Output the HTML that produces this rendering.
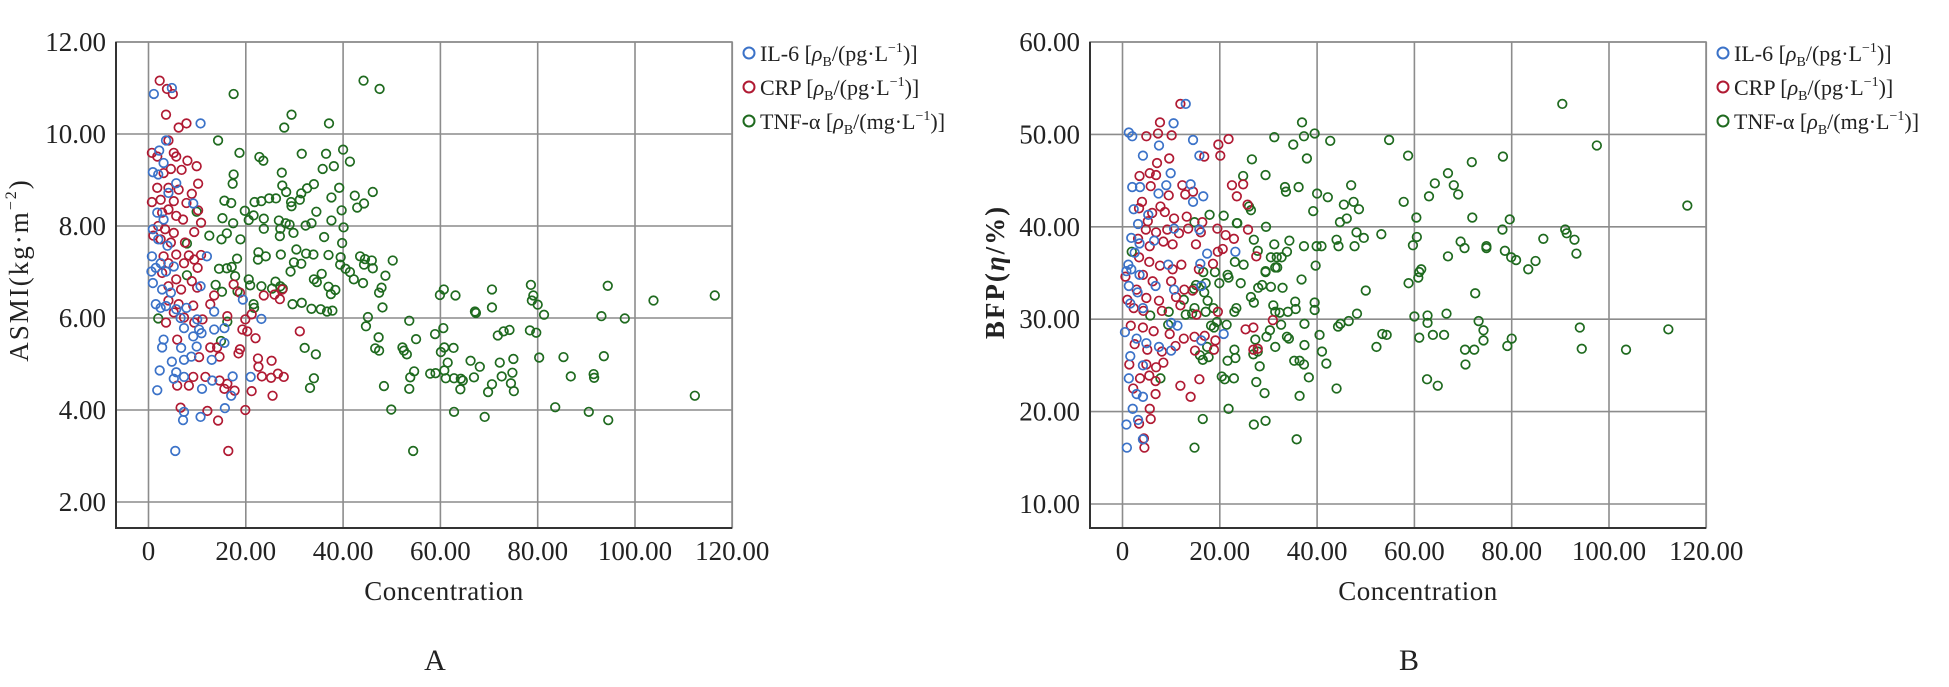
<!DOCTYPE html>
<html><head><meta charset="utf-8"><style>
html,body{margin:0;padding:0;background:#fff;}
svg{display:block;font-family:"Liberation Serif",serif;}
</style></head><body>
<svg id="fig" width="1949" height="687" viewBox="0 0 1949 687"></svg>
<script>
// ---- Panel A data (ASMI vs concentration) ----
const aIL6X=[1.1,4.8,10.7,3.6,2.2,3.1,0.9,2,5.7,4.1,9.2,1.8,3.1,0.9,2,3.9,0.7,2.5,1.5,0.6,3.6,5.2,12,0.9,2.8,4.6,10.7,1.5,2.5,3.6,5.7,7.8,13.5,19.4,23.2,6.6,10,7.3,10.4,13.5,15.6,9.2,3.1,2.8,6.7,9.9,15.6,7.3,4.8,8.8,13,2.3,5.7,5.2,7.3,11,13.1,17.3,21,1.8,17,15.7,7.3,7.1,10.7,5.5,10.9];
const aIL6Y=[10.87,11.0,10.23,9.86,9.64,9.37,9.17,9.12,8.93,8.72,8.49,8.29,8.14,7.93,7.71,7.57,7.34,7.19,7.09,7.01,7.01,7.12,7.34,6.76,6.62,6.55,6.69,6.30,6.22,6.26,6.19,6.22,6.14,6.40,5.98,6.0,5.97,5.78,5.75,5.75,5.78,5.60,5.53,5.36,5.35,5.38,5.46,5.09,5.05,5.16,5.09,4.86,4.82,4.68,4.72,4.46,4.64,4.73,4.72,4.43,4.31,4.04,3.96,3.78,3.85,3.11,5.67];
const aCRPX=[2.3,3.8,5,3.6,6.2,7.8,4.1,0.7,1.8,5.2,5.7,8,9.9,4.6,6.8,3.1,10.2,1.8,4.1,6.2,8.9,0.7,2.5,5.2,7.8,10.2,2.8,4.1,5.7,7.1,10.8,2,3.4,5.2,9.4,1,2.5,4.6,7.5,3.1,5.7,8.3,9.4,10.8,4.1,7.3,10.1,2.8,5.7,8.9,4.1,6.7,10,13.5,17.5,18.8,23.7,25.9,27.5,27,4.1,6.2,9.2,12.7,5.2,7.3,11.1,16.2,19.9,21.2,3.6,9.4,19.3,20.3,31.1,5.9,12.7,14.1,18.8,22,10.4,14.6,18.5,22.5,25.3,22.6,9.2,11.7,14.6,16.2,8.3,5.9,23.3,25.2,27.8,26.6,21.2,25.5,6.6,12.1,14.3,19.9,16.4,15.6,17.7];
const aCRPY=[11.16,10.98,10.87,10.42,10.14,10.23,9.86,9.59,9.51,9.59,9.51,9.42,9.30,9.24,9.22,9.15,8.92,8.83,8.83,8.79,8.70,8.52,8.57,8.54,8.50,8.34,8.29,8.36,8.22,8.14,8.07,8,7.93,7.85,7.87,7.79,7.71,7.64,7.64,7.34,7.38,7.36,7.27,7.37,7.19,7.19,7.09,6.98,6.84,6.80,6.69,6.62,6.66,6.49,6.73,6.55,6.49,6.51,6.62,6.41,6.38,6.30,6.27,6.30,6.12,6.01,5.97,6.04,5.97,6.08,5.90,5.90,5.75,5.71,5.71,5.53,5.36,5.36,5.32,5.56,5.15,5.16,5.23,5.12,5.07,4.94,4.72,4.72,4.64,4.57,4.53,4.53,4.73,4.70,4.72,4.79,4.41,4.31,4.05,3.98,3.77,4.00,3.11,4.46,4.42];
const aTNFX=[44.2,47.5,17.5,29.4,27.9,37.1,14.3,18.7,31.5,36.5,40,41.4,22.8,23.6,35.8,38.1,27.4,17.5,17.3,27.5,34,39.2,46.1,32.6,31.4,42.4,37.6,44.3,42.9,28.3,15.6,17,21.8,23.2,24.8,26.2,29.3,31.1,29.4,34.5,39.7,19.8,21.6,20.6,15.2,17.4,23.7,26.8,28.2,29,32.3,33.5,37.6,40.1,27.1,23.7,12.5,16.1,27,29.8,36.1,15,18.9,39.8,7.9,30.4,33.9,22.6,27.2,32.4,37,39.5,43.5,44.5,45.9,50.2,18.2,22.5,24.1,29.9,31.4,39.4,40.5,41.4,44.3,46.1,14.5,16.1,17.1,29.2,35.6,48.7,42.2,34,34.6,17.8,20.6,26.1,44.1,13.8,20.9,23.2,25.4,27.1,27.6,37,38.4,47.9,15.1,18.3,37.5,47.4,60.7,59.9,63.1,70.6,78.6,94.4,79.1,78.8,80,81.3,103.8,116.4,93.1,97.9,67.1,67.3,70.6,48.1,45.1,44.7,53.6,21.6,21.7,29.6,31.5,33.5,35.4,36.7,37.8,2,9.9,7.9,16.2,14.9,47.3,58.9,60.6,71.8,73,74.2,78.4,79.7,55,32.1,34.4,46.6,47.4,52.2,52.5,53.1,60.1,60.8,62.7,61.5,66.2,68.1,72.2,75,80.3,85.3,93.6,54.6,53.8,57.9,59,60.8,61.1,62.8,64.2,64.6,66.9,70.6,72.6,74.8,74.5,75.1,86.8,91.5,91.6,64.1,69.8,48.4,53.6,33.2,34,49.9,62.8,69.1,83.6,90.5,94.5,112.3,54.4];
const aTNFY=[11.16,10.98,10.87,10.42,10.14,10.23,9.86,9.59,9.57,9.57,9.66,9.40,9.50,9.42,9.24,9.30,9.16,9.12,8.92,8.88,8.91,8.83,8.74,8.82,8.71,8.66,8.62,8.49,8.40,8.74,8.55,8.50,8.52,8.54,8.60,8.60,8.52,8.57,8.43,8.31,8.34,8.33,8.23,8.13,8.17,8.06,8.16,8.12,8.06,8.03,8.01,8.06,8.12,7.97,7.94,7.94,7.79,7.84,7.78,7.85,7.76,7.71,7.71,7.63,7.62,7.49,7.38,7.43,7.38,7.40,7.37,7.32,7.34,7.28,7.25,7.25,7.29,7.27,7.34,7.21,7.18,7.16,7.07,7.00,7.16,7.08,7.07,7.08,7.11,7.01,6.96,6.92,6.84,6.84,6.78,6.91,6.84,6.79,6.76,6.72,6.71,6.69,6.64,6.69,6.64,6.68,6.61,6.66,6.57,6.58,6.52,6.55,6.62,6.50,6.49,6.62,6.72,6.70,6.49,6.38,6.29,6.07,6.38,6.49,6.04,5.99,6.14,6.11,6.23,6.23,6.02,5.82,5.94,6.30,6.22,6.30,6.33,6.20,6.19,6.14,6.16,5.99,8.31,6.93,5.92,5.50,5.58,5.65,5.78,5.62,5.71,5.74,5.73,5.68,5.54,5.35,5.21,5.34,5.29,5.36,5.29,5.21,5.26,5.36,5.35,5.03,5.07,4.94,5.03,5.11,5.14,5.15,5.17,4.84,4.71,4.79,4.80,4.86,4.69,4.69,4.68,4.64,4.71,4.56,4.73,4.81,4.58,4.41,4.73,4.78,4.70,4.45,4.39,4.52,4.46,4.48,4.69,4.01,3.96,3.85,4.06,3.96,3.78,4.31,3.11];
// ---- Panel B data (BFP vs concentration) ----
const bIL6X=[13,10.5,1.3,2,14.5,7.5,4.2,15.8,9.9,2,3.6,9,14,16.6,14.5,7.4,2.3,5.3,3.2,10.6,15.8,1.8,3.5,6.5,23.2,2.5,1.2,1.8,3.5,9.4,16,17.4,0.8,1.3,3.1,6.8,10.6,16.2,1.6,4.2,10,11.3,0.5,2.9,4.9,7.5,10,16.2,20.8,1.6,4.2,1.3,2.9,4.2,2.1,3.2,0.8,0.9,4.2];
const bIL6Y=[53.3,51.2,50.2,49.8,49.4,48.8,47.7,47.7,45.8,44.3,44.3,44.5,44.6,43.3,42.7,43.6,41.9,41.3,40.3,39.8,39.7,38.8,38.2,38.5,37.3,37.2,35.9,35.4,34.8,35.9,36.0,37.1,35.2,33.6,32.9,33.6,33.2,33.6,31.7,31.2,29.6,29.3,28.6,27.9,27.4,27.0,26.6,27.7,28.4,26.0,25.0,23.6,21.9,21.6,20.3,19.1,18.6,16.1,17.0];
const bCRPX=[11.9,7.7,10.1,4.9,7.3,19.7,21.8,20.1,16.8,9.6,7.1,5.6,6.9,3.5,5.8,12.3,14.5,12.9,22.5,24.8,23.5,25.7,9.5,7.8,4,3.4,6.1,8.7,10.6,5.2,13.2,13.5,4.8,6.9,9.2,11.6,16.1,19.5,21.2,22.9,25.8,15.1,19.6,20.6,27.5,3.2,5.6,8.4,10.3,3.4,5.5,7.7,10.3,12.1,15.7,18.6,0.6,4.2,6.2,10,12.7,14.4,2.9,4.9,7.5,11,1,2.3,4.3,8.1,11.9,15.2,19.6,30.9,1.7,4.2,6.4,9.7,12.6,14.8,16.9,19.1,25.3,26.9,2.5,5.1,8.1,10.9,14.9,18.8,26.9,27.8,1.4,4.9,6.9,8.4,3.6,5.5,6.8,15.8,11.9,2.2,6.8,14,5.6,5.8,3.4,4.4,4.5,16.4];
const bCRPY=[53.3,51.3,49.9,49.8,50.1,48.9,49.5,47.7,47.6,47.4,46.9,45.8,45.6,45.5,44.4,44.5,43.8,43.5,44.5,44.6,43.3,42.4,43.4,42.2,42.7,42.0,41.5,41.6,40.9,40.6,41.1,39.8,39.7,39.4,39.7,39.3,39.4,39.8,39.1,38.7,39.7,38.1,37.3,37.6,36.8,38.7,37.9,38.4,38.1,36.7,36.2,35.8,35.4,35.9,35.4,36.0,34.6,34.8,34.1,34.1,33.2,33.1,33.2,32.3,32.0,32.4,32.1,31.2,30.9,30.9,31.5,30.5,30.8,29.9,29.3,29.1,28.7,28.4,27.9,28.1,28.2,27.7,28.9,29.1,27.3,26.7,26.5,27.1,26.6,26.7,26.7,26.8,25.1,25.1,24.8,25.3,23.6,23.9,23.3,23.5,22.8,22.5,21.9,21.6,20.3,19.2,18.7,17.1,16.1,40.5];
const bTNFX=[90.4,97.5,116.1,36.9,39.5,37.3,31.2,35.1,42.7,54.8,37.9,26.6,58.7,71.8,78.2,29.4,24.8,33.4,36.2,33.6,47,42.2,40,45.5,47.5,48.6,57.8,63,64.2,66.9,68.1,69,39.2,26,26.4,17.9,20.8,23.5,29.5,44.7,46.1,60.4,71.9,79.6,78.1,91,91.3,92.9,86.5,93.3,69.5,70.3,74.8,74.8,78.6,79.9,80.9,84.9,83.4,66.9,60.5,59.7,61,60.8,61.4,58.8,50,53.2,49.6,48.1,47.7,44,44.4,39.9,40.9,37.3,39.7,34.3,31.2,27,23.6,30.5,31.7,32.7,33.8,27.8,23.1,24.9,21.6,21.8,24.3,27.9,26.4,28.7,29.4,29.4,31.4,31.8,32.9,30.5,36.8,35.5,35.6,39.5,39.5,31,31.4,32.3,34,48.2,46.5,44.3,44.8,27,23.4,23,21.4,19.4,18.8,30.3,29.6,32.6,33.8,34.2,37.4,40.5,37.4,31.4,27.3,27.8,26.9,23,23.2,21.6,28.2,35.3,37.3,41,41.9,53.4,54.3,52.2,60,61,62.7,62.7,63.8,66.1,66.6,72.5,73.2,74.2,74.2,70.4,72.3,70.5,79.1,80,94,94.4,103.5,112.2,62.6,64.8,44,38.3,36.4,20.4,21,22.9,27.5,29.2,36.4,21.8,16.5,27,29.4,35.8,14.8,16.5,15.9,17.7,17.4,18.2,17.5,14.7,15.1,16.8,14.8,12.6,14.3,13,9.4,7.8,5.7,1.9,14.8,16.6,17.1,19,19.9,18.7,9.5,17.1];
const bTNFY=[53.3,48.8,42.3,51.3,50.1,49.8,49.7,48.9,49.3,49.4,47.4,47.3,47.7,47.0,47.6,45.6,45.5,44.3,44.3,43.8,44.5,43.2,43.6,42.4,42.7,41.9,42.7,43.3,44.7,45.8,44.5,43.5,41.7,42.2,41.8,41.3,41.2,40.4,40.0,40.5,40.9,41.0,41.0,40.8,39.7,39.7,39.3,38.6,38.7,37.1,38.4,37.7,37.9,37.7,37.4,36.7,36.4,36.3,35.4,36.8,38.9,38.0,35.1,34.5,35.4,33.9,33.1,39.2,38.8,39.4,37.9,38.6,37.9,37.9,37.9,37.9,35.8,38.5,38.1,38.6,40.4,36.7,36.7,36.7,37.3,37.4,36.2,35.9,34.8,34.5,33.9,33.4,32.4,33.7,35.1,35.2,35.6,35.6,33.4,33.5,34.3,31.9,31.1,31.8,31.0,31.5,30.8,30.7,30.8,30.6,29.8,29.2,29.5,31.8,31.2,30.8,29.4,29.7,29.1,28.8,28.1,29.4,28.1,27.9,29.5,28.3,27.2,27.0,27.8,26.5,26.2,26.7,25.8,25.5,24.9,25.5,25.1,26.5,25.2,28.4,28.3,27.0,30.3,28.0,30.4,29.6,28.3,28.3,30.6,32.8,29.8,28.8,27.7,26.7,26.7,25.1,27.1,27.9,29.1,26.8,26.7,28.9,23.5,22.8,22.5,23.7,25.5,23.8,23.5,23.6,23.2,22.0,21.7,20.3,19.2,18.6,19.0,17.0,16.1,25.6,26.1,25.9,27.0,29.3,32.0,33.3,33.7,32.9,31.2,32.1,30.6,30.5,29.4,23.6,30.4,37.3,40.5,35.1,33.9,35.1,33.9,31.2,30.8,30.8];
// ---- tick labels ----
const xTicks=[0,20,40,60,80,100,120];
const xTickLabels=["0","20.00","40.00","60.00","80.00","100.00","120.00"];
const aYTicks=[2,4,6,8,10,12];
const aYTickLabels=["2.00","4.00","6.00","8.00","10.00","12.00"];
const bYTicks=[10,20,30,40,50,60];
const bYTickLabels=["10.00","20.00","30.00","40.00","50.00","60.00"];

const NS="http://www.w3.org/2000/svg";
const svg=document.getElementById('fig');
function mk(tag,attrs,parent){const e=document.createElementNS(NS,tag);for(const k in attrs)e.setAttribute(k,attrs[k]);(parent||svg).appendChild(e);return e;}
const COL={il6:"#3b72c8",crp:"#b01a33",tnf:"#1f6a1f"};

function panel(o){
  const L=o.ox+116,R=o.ox+732,T=42,B=528;
  const xs=v=>o.ox+148.5+v*4.865;
  const ys=v=>o.y0px-(v-o.y0)*o.ypu;
  const g=mk('g',{});
  
  
  // grid
  xTicks.forEach((t,i)=>{const l=mk('line',{x1:xs(t),x2:xs(t),y1:T,y2:B,stroke:"#8c8c8c","stroke-width":1.6},g);
    
    const tx=mk('text',{x:xs(t),y:560,"text-anchor":"middle","font-size":27,fill:"#222"},g);tx.textContent=xTickLabels[i];
    });
  o.yt.forEach((t,i)=>{const l=mk('line',{x1:L,x2:R,y1:ys(t),y2:ys(t),stroke:"#8c8c8c","stroke-width":1.6},g);
    
    const tx=mk('text',{x:o.ox+106,y:ys(t)+9,"text-anchor":"end","font-size":27,fill:"#222"},g);tx.textContent=o.ytl[i];
    });
  const fr=mk('rect',{x:L,y:T,width:R-L,height:B-T,fill:"none",stroke:"#8c8c8c","stroke-width":1.6},g);
  
  const ax=mk('path',{d:`M${L} ${T}V${B}H${R}`,fill:"none",stroke:"#333","stroke-width":2},g);
  
  // series
  [[o.tnfX,o.tnfY,COL.tnf,'tnf-alpha-point'],[o.crpX,o.crpY,COL.crp,'crp-point'],[o.ilX,o.ilY,COL.il6,'il6-point']].forEach(s=>{
    s[0].forEach((v,i)=>{const c=mk('circle',{cx:xs(v),cy:ys(s[1][i]),r:4.3,fill:"none",stroke:s[2],"stroke-width":1.7},g);
      });
  });
  const xt=mk('text',{x:o.ox+444,y:600,"text-anchor":"middle","font-size":27,fill:"#222","letter-spacing":"0.5"},g);xt.textContent="Concentration";
  
  const pl=mk('text',{x:o.ox+435,y:670,"text-anchor":"middle","font-size":30,fill:"#222"},g);pl.textContent=o.letter;
  
  const yt=mk('text',{x:0,y:0,transform:`translate(${o.ox+o.ytx},${o.yty}) rotate(-90)`,"text-anchor":"middle","font-size":27,fill:"#222","font-weight":o.bold?"bold":"normal","letter-spacing":"2"},g);
  yt.innerHTML=o.ytitle;
  
  // legend
  const leg=[["IL-6",COL.il6,"pg"],["CRP",COL.crp,"pg"],["TNF-α",COL.tnf,"mg"]];
  leg.forEach((e,i)=>{const y=53+i*34;
    const c=mk('circle',{cx:o.ox+749,cy:y,r:5.5,fill:"none",stroke:e[1],"stroke-width":2},g);
    
    const t=mk('text',{x:o.ox+760,y:y+8,"font-size":22,fill:"#222"},g);
    t.innerHTML=`${e[0]} [<tspan font-style="italic">ρ</tspan><tspan font-size="14" dy="5">B</tspan><tspan dy="-5">/(${e[2]}·L</tspan><tspan font-size="14" dy="-9">−1</tspan><tspan dy="9">)]</tspan>`;
    });
}
panel({ox:0,name:'chart-a',letter:'A',y0:4,y0px:410,ypu:46,yt:aYTicks,ytl:aYTickLabels,
  ilX:aIL6X,ilY:aIL6Y,crpX:aCRPX,crpY:aCRPY,tnfX:aTNFX,tnfY:aTNFY,ytx:28,yty:270,
  ytitle:'ASMI(kg·m<tspan font-size="16" dy="-12">−2</tspan><tspan dy="12">)</tspan>'});
panel({ox:974,name:'chart-b',letter:'B',y0:10,y0px:504,ypu:9.24,yt:bYTicks,ytl:bYTickLabels,
  ilX:bIL6X,ilY:bIL6Y,crpX:bCRPX,crpY:bCRPY,tnfX:bTNFX,tnfY:bTNFY,ytx:30,yty:272,bold:true,
  ytitle:'BFP(<tspan font-style="italic">η</tspan>/%)'});
</script>
</body></html>
